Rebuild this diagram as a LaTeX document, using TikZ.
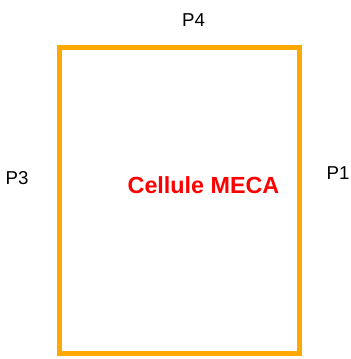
\documentclass[tikz,border=0pt]{standalone}
\usepackage{fontspec}
\setmainfont{Liberation Sans}
\usepackage{xcolor}
\usetikzlibrary{positioning,calc}
\definecolor{cellorange}{RGB}{255,168,0}
\definecolor{cellred}   {RGB}{255,0,0}
\tikzset{
  paroi/.style  ={draw=cellorange, line width=3.75pt, line cap=rect},
  plabel/.style ={font=\fontsize{14}{16}\selectfont, inner sep=0pt},
  celllabel/.style={font=\fontsize{17.5}{20}\selectfont\bfseries,
                  text=cellred, inner sep=0pt},
}

\begin{document}
\begin{tikzpicture}[x=0.75pt,y=-0.75pt]
  \useasboundingbox (0,0) rectangle (350,359);
  \coordinate (nw) at (59.5,47.5);
  \coordinate (se) at (299.5,353.5);
  \draw[paroi] (nw) rectangle (se);
  \node[plabel] (p4) at (193.5,20) {P4};
  \node[plabel] (p3) at (17,178) {P3};
  \node[plabel] (p1) at (338,173) {P1};
  \node[celllabel] (cell) at (203.5,185.5) {Cellule MECA};
\end{tikzpicture}
\end{document}
